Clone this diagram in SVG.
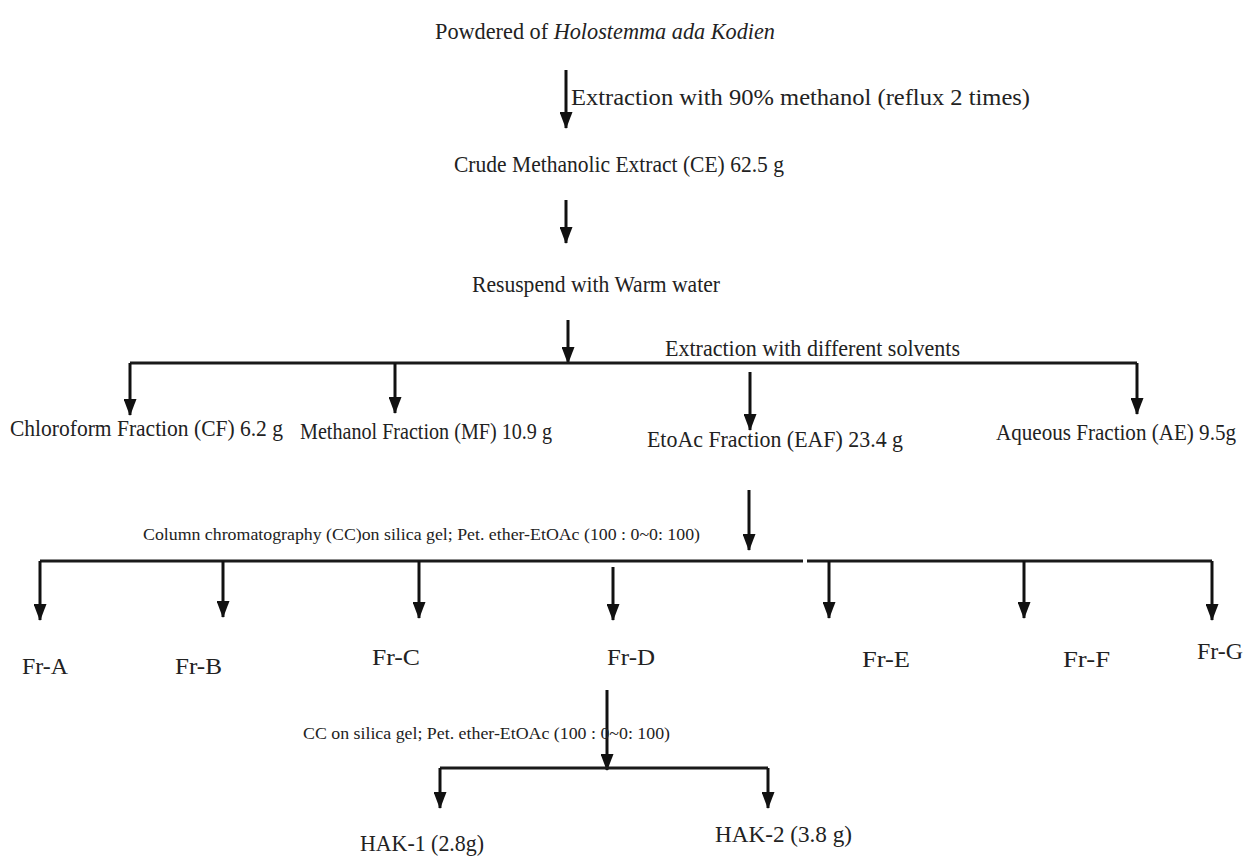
<svg xmlns="http://www.w3.org/2000/svg" width="1248" height="857" viewBox="0 0 1248 857">
<defs>
<marker id="ah" markerUnits="userSpaceOnUse" markerWidth="17" markerHeight="13" refX="16" refY="6.5" orient="auto" viewBox="0 0 17 13">
<path d="M0,0 L17,6.5 L0,13 Z" fill="#111"/>
</marker>
<style>
.t{font-family:"Liberation Serif","Times New Roman",serif;font-size:24px;fill:#222}
.s{font-family:"Liberation Serif","Times New Roman",serif;font-size:16px;fill:#222}
.c{stroke:#1a1a1a;stroke-width:3;fill:none}
.a{stroke:#111;stroke-width:3;fill:none;marker-end:url(#ah)}
</style>
</defs>
<rect width="1248" height="857" fill="#fff"/>
<g id="connectors">
<line class="a" x1="566" y1="70" x2="566" y2="128"/>
<line class="a" x1="566" y1="200" x2="566" y2="243"/>
<line class="a" x1="568" y1="320" x2="568" y2="363"/>
<path class="c" d="M130,363 H1137"/>
<line class="a" x1="130" y1="363" x2="130" y2="415"/>
<line class="a" x1="395" y1="363" x2="395" y2="413"/>
<line class="a" x1="1137" y1="363" x2="1137" y2="414"/>
<line class="a" x1="750" y1="372" x2="750" y2="430"/>
<line class="a" x1="749" y1="490" x2="749" y2="550"/>
<path class="c" d="M40,561 H803 M807,561 H1212"/>
<line class="a" x1="40" y1="561" x2="40" y2="620"/>
<line class="a" x1="223" y1="561" x2="223" y2="617"/>
<line class="a" x1="419" y1="561" x2="419" y2="618"/>
<line class="a" x1="613" y1="567" x2="613" y2="620"/>
<line class="a" x1="829" y1="561" x2="829" y2="618"/>
<line class="a" x1="1024" y1="561" x2="1024" y2="618"/>
<line class="a" x1="1212" y1="561" x2="1212" y2="620"/>
<line class="a" x1="607" y1="690" x2="607" y2="770"/>
<path class="c" d="M440,768 H768"/>
<line class="a" x1="440" y1="768" x2="440" y2="808"/>
<line class="a" x1="768" y1="768" x2="768" y2="808"/>
</g>
<g id="labels">
<text class="t" x="571" y="105" textLength="459" lengthAdjust="spacingAndGlyphs">Extraction with 90% methanol (reflux 2 times)</text>
<text class="t" x="665" y="356" textLength="295" lengthAdjust="spacingAndGlyphs">Extraction with different solvents</text>
<text class="s" x="143" y="540" textLength="557" lengthAdjust="spacingAndGlyphs">Column chromatography (CC)on silica gel; Pet. ether-EtOAc (100 : 0~0: 100)</text>
<text class="s" x="303" y="739" textLength="367" lengthAdjust="spacingAndGlyphs">CC on silica gel; Pet. ether-EtOAc (100 : 0~0: 100)</text>
</g>
<g id="n-powder"><text class="t" x="435" y="39" textLength="340" lengthAdjust="spacingAndGlyphs">Powdered of <tspan font-style="italic">Holostemma ada Kodien</tspan></text></g>
<g id="n-ce"><text class="t" x="454" y="172" textLength="330" lengthAdjust="spacingAndGlyphs">Crude Methanolic Extract (CE) 62.5 g</text></g>
<g id="n-resuspend"><text class="t" x="472" y="292" textLength="248" lengthAdjust="spacingAndGlyphs">Resuspend with Warm water</text></g>
<g id="n-cf"><text class="t" x="10" y="436" textLength="273" lengthAdjust="spacingAndGlyphs">Chloroform Fraction (CF) 6.2 g</text></g>
<g id="n-mf"><text class="t" x="300" y="439" textLength="252" lengthAdjust="spacingAndGlyphs">Methanol Fraction (MF) 10.9 g</text></g>
<g id="n-eaf"><text class="t" x="647" y="447" textLength="256" lengthAdjust="spacingAndGlyphs">EtoAc Fraction (EAF) 23.4 g</text></g>
<g id="n-ae"><text class="t" x="996" y="440" font-size="22" textLength="240" lengthAdjust="spacingAndGlyphs">Aqueous Fraction (AE) 9.5g</text></g>
<g id="n-fra"><text class="t" x="22" y="674" textLength="46" lengthAdjust="spacingAndGlyphs">Fr-A</text></g>
<g id="n-frb"><text class="t" x="175" y="674" textLength="47" lengthAdjust="spacingAndGlyphs">Fr-B</text></g>
<g id="n-frc"><text class="t" x="372" y="665" textLength="48" lengthAdjust="spacingAndGlyphs">Fr-C</text></g>
<g id="n-frd"><text class="t" x="607" y="665" textLength="48" lengthAdjust="spacingAndGlyphs">Fr-D</text></g>
<g id="n-fre"><text class="t" x="862" y="667" textLength="48" lengthAdjust="spacingAndGlyphs">Fr-E</text></g>
<g id="n-frf"><text class="t" x="1063" y="667" textLength="47" lengthAdjust="spacingAndGlyphs">Fr-F</text></g>
<g id="n-frg"><text class="t" x="1197" y="659" textLength="46" lengthAdjust="spacingAndGlyphs">Fr-G</text></g>
<g id="n-hak1"><text class="t" x="360" y="851" textLength="124" lengthAdjust="spacingAndGlyphs">HAK-1 (2.8g)</text></g>
<g id="n-hak2"><text class="t" x="715" y="842" textLength="137" lengthAdjust="spacingAndGlyphs">HAK-2 (3.8 g)</text></g>
</svg>
